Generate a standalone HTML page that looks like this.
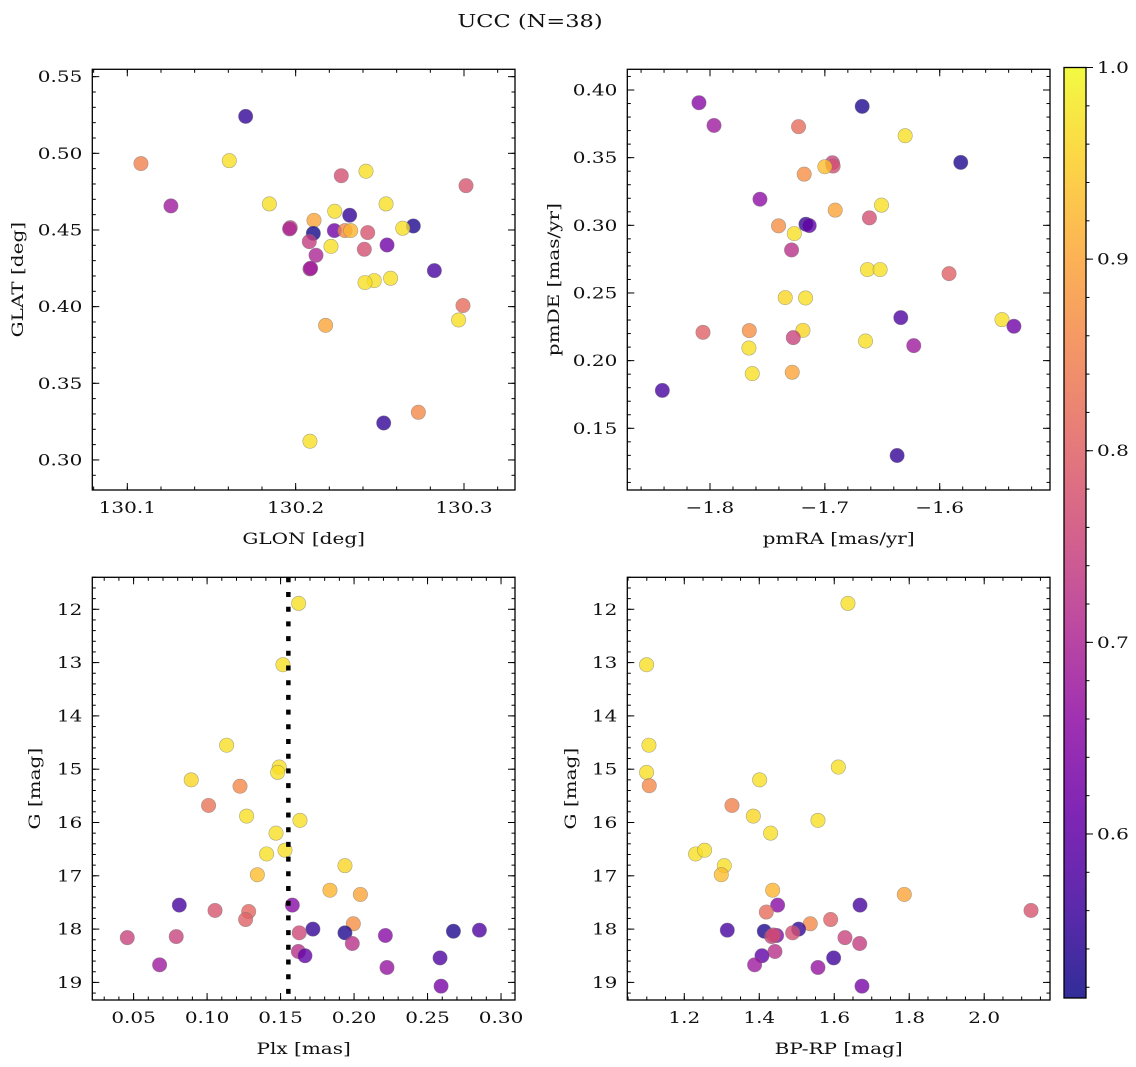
<!DOCTYPE html>
<html><head><meta charset="utf-8">
<style>
html,body{margin:0;padding:0;background:#fff;}
svg{display:block;font-family:"DejaVu Serif","Liberation Serif",serif;}
</style></head>
<body>
<svg id="fig" width="1136" height="1067" viewBox="0 0 1136 1067" xmlns="http://www.w3.org/2000/svg">
<text x="530" y="27" text-anchor="middle" font-size="18" fill="#111">UCC (N=38)</text>
</svg>
<script>
// ---- data ----
const probs1 = [0.55,0.85,0.97,0.77,0.97,0.78,0.68,0.97,0.97,0.97,0.55,0.9,0.75,0.53,0.97,0.52,0.62,0.86,0.92,0.78,0.74,0.97,0.62,0.77,0.7,0.72,0.57,0.97,0.97,0.97,0.82,0.97,0.9,0.86,0.55,0.97,0.7,0.68];
const glon = [130.1703,130.1081,130.1606,130.2271,130.2418,130.3012,130.1259,130.1844,130.2537,130.2232,130.2321,130.2109,130.1968,130.2699,130.2636,130.2105,130.2230,130.2293,130.2327,130.2428,130.2081,130.2210,130.2543,130.2408,130.2121,130.2085,130.2824,130.2467,130.2412,130.2564,130.2994,130.2968,130.2178,130.2729,130.2523,130.2085,130.1964,130.2089];
const glat = [0.5241,0.4933,0.4952,0.4854,0.4883,0.4789,0.4657,0.4670,0.4670,0.4622,0.4596,0.4563,0.4515,0.4526,0.4511,0.4478,0.4496,0.4496,0.4496,0.4483,0.4424,0.4393,0.4402,0.4374,0.4335,0.4246,0.4235,0.4170,0.4157,0.4185,0.4007,0.3913,0.3878,0.3311,0.3241,0.3122,0.4507,0.4250];

const probs2 = [0.65,0.68,0.53,0.82,0.97,0.53,0.75,0.77,0.93,0.87,0.66,0.9,0.97,0.77,0.87,0.55,0.6,0.97,0.72,0.97,0.97,0.8,0.96,0.97,0.58,0.97,0.62,0.8,0.87,0.96,0.75,0.97,0.68,0.97,0.97,0.9,0.57,0.55];
const pmra = [-1.8096,-1.7965,-1.6675,-1.7229,-1.6301,-1.5817,-1.6934,-1.6928,-1.7000,-1.7180,-1.7565,-1.6910,-1.6507,-1.6612,-1.7403,-1.7165,-1.7136,-1.7266,-1.7290,-1.6629,-1.6519,-1.5919,-1.7345,-1.7168,-1.6339,-1.5458,-1.5354,-1.8061,-1.7658,-1.7191,-1.7275,-1.6646,-1.6226,-1.7661,-1.7632,-1.7284,-1.8415,-1.6371];
const pmde = [0.3906,0.3738,0.3879,0.3729,0.3662,0.3465,0.3462,0.3438,0.3433,0.3378,0.3193,0.3112,0.3149,0.3055,0.2996,0.3008,0.2998,0.2939,0.2818,0.2673,0.2673,0.2643,0.2466,0.2463,0.2318,0.2303,0.2254,0.2209,0.2222,0.2224,0.2170,0.2145,0.2111,0.2093,0.1904,0.1914,0.1780,0.1299];

const probs3 = [0.97,0.97,0.97,0.97,0.97,0.96,0.86,0.83,0.97,0.97,0.97,0.97,0.97,0.96,0.93,0.92,0.9,0.57,0.65,0.78,0.81,0.8,0.87,0.55,0.53,0.53,0.58,0.76,0.75,0.75,0.65,0.72,0.72,0.6,0.58,0.68,0.67,0.63];
const plx = [0.1623,0.1516,0.1133,0.1491,0.1480,0.0892,0.1224,0.1010,0.1269,0.1632,0.1469,0.1405,0.1530,0.1938,0.1342,0.1836,0.2043,0.0811,0.1580,0.1054,0.1283,0.1262,0.1995,0.1720,0.1938,0.2676,0.2853,0.1627,0.0457,0.0790,0.2213,0.1988,0.1621,0.1666,0.2585,0.0677,0.2224,0.2592];
const gmag3 = [11.89,13.04,14.55,14.96,15.06,15.20,15.32,15.68,15.88,15.96,16.20,16.59,16.52,16.81,16.98,17.27,17.35,17.55,17.55,17.65,17.67,17.82,17.90,18.00,18.07,18.04,18.02,18.07,18.16,18.14,18.12,18.27,18.42,18.50,18.54,18.67,18.72,19.07];
const plxMedian = [0.1553];

const probs4 = [0.97,0.97,0.97,0.97,0.86,0.97,0.97,0.85,0.96,0.97,0.97,0.97,0.97,0.97,0.93,0.92,0.9,0.65,0.57,0.82,0.78,0.8,0.86,0.57,0.53,0.55,0.77,0.65,0.75,0.75,0.74,0.72,0.6,0.56,0.68,0.67,0.63,0.76];
const bprp = [1.6366,1.0995,1.1057,1.0995,1.1066,1.6109,1.4010,1.3272,1.3841,1.5566,1.4303,1.2302,1.2542,1.3067,1.2987,1.4357,1.7869,1.4490,1.6687,1.4188,2.1249,1.5904,1.5361,1.3147,1.4134,1.5050,1.4890,1.4463,1.4330,1.6286,1.6678,1.4419,1.4072,1.5984,1.3876,1.5566,1.6740,1.4374];
const gmag4 = [11.89,13.04,14.55,15.06,15.31,14.96,15.20,15.68,15.88,15.96,16.20,16.59,16.52,16.81,16.98,17.27,17.35,17.55,17.55,17.68,17.65,17.82,17.90,18.02,18.04,18.00,18.07,18.12,18.14,18.16,18.27,18.42,18.50,18.54,18.67,18.72,19.07,18.11];

const cbarTicks = [0.6,0.7,0.8,0.9,1.0];
const cbarRange = [0.5144,1.0];

// ---- helpers ----
const NS = "http://www.w3.org/2000/svg";
const svg = document.getElementById('fig');
function mk(tag, attrs, parent){
  const e = document.createElementNS(NS, tag);
  for (const k in attrs) e.setAttribute(k, attrs[k]);
  (parent||svg).appendChild(e);
  return e;
}
const plasmaStops = [[0,'#0d0887'],[0.1,'#41049d'],[0.2,'#6a00a8'],[0.3,'#8f0da4'],[0.4,'#b12a90'],[0.5,'#cc4778'],[0.6,'#e16462'],[0.7,'#f2844b'],[0.8,'#fca636'],[0.9,'#fcce25'],[1.0,'#f0f921']];
function hex(h){return [parseInt(h.substr(1,2),16),parseInt(h.substr(3,2),16),parseInt(h.substr(5,2),16)];}
function plasma(t){
  t=Math.max(0,Math.min(1,t));
  for(let i=0;i<plasmaStops.length-1;i++){
    const a=plasmaStops[i],b=plasmaStops[i+1];
    if(t<=b[0]){const f=(t-a[0])/(b[0]-a[0]);const ca=hex(a[1]),cb=hex(b[1]);
      return 'rgb('+ca.map((v,j)=>Math.round(v+(cb[j]-v)*f)).join(',')+')';}
  }
  return plasmaStops[plasmaStops.length-1][1];
}
function cnorm(v){return (v-cbarRange[0])/(cbarRange[1]-cbarRange[0]);}
function fmtMinus(s){return s.replace('-','\u2212');}

function panel(cfg){
  const g = mk('g',{});
  
  
  const L=cfg.box[0],T=cfg.box[1],R=cfg.box[2],B=cfg.box[3];
  const sx = v => L + (v-cfg.xd[0])/(cfg.xd[1]-cfg.xd[0])*(R-L);
  const sy = cfg.invert ? (v => T + (v-cfg.yd[0])/(cfg.yd[1]-cfg.yd[0])*(B-T)) : (v => B - (v-cfg.yd[0])/(cfg.yd[1]-cfg.yd[0])*(B-T));
  const clip = mk('clipPath',{id:cfg.name+'-clip'},g);
  mk('rect',{x:L,y:T,width:R-L,height:B-T},clip);
  const pts = mk('g',{'clip-path':'url(#'+cfg.name+'-clip)'},g);
  
  
  for(let i=0;i<cfg.x.length;i++){
    const c = mk('circle',{cx:sx(cfg.x[i]),cy:sy(cfg.y[i]),r:7.2,fill:plasma(cnorm(cfg.c[i])),'fill-opacity':0.8,stroke:'#777','stroke-opacity':0.6,'stroke-width':0.6},pts);
    
    
  }
  if(cfg.vline){
    const vl = mk('line',{x1:sx(cfg.vline[0]),x2:sx(cfg.vline[0]),y1:T,y2:B,stroke:'#000','stroke-width':4.5,'stroke-dasharray':'5 9.7'},pts);
    
    
  }
  const tk = mk('g',{stroke:'#000','stroke-width':1},g);
  const eps=1e-9;
  for(let v=Math.ceil((cfg.xd[0])/cfg.xminor-eps)*cfg.xminor; v<=cfg.xd[1]+eps; v+=cfg.xminor){
    const x=sx(v);
    mk('line',{x1:x,x2:x,y1:B,y2:B-3.5},tk); mk('line',{x1:x,x2:x,y1:T,y2:T+3.5},tk);
  }
  for(let v=Math.ceil((Math.min(cfg.yd[0],cfg.yd[1]))/cfg.yminor-eps)*cfg.yminor; v<=Math.max(cfg.yd[0],cfg.yd[1])+eps; v+=cfg.yminor){
    const y=sy(v);
    mk('line',{x1:L,x2:L+3.5,y1:y,y2:y},tk); mk('line',{x1:R,x2:R-3.5,y1:y,y2:y},tk);
  }
  cfg.xt.forEach(v=>{
    const x=sx(v);
    mk('line',{x1:x,x2:x,y1:B,y2:B-7},tk); mk('line',{x1:x,x2:x,y1:T,y2:T+7},tk);
    const t=mk('text',{x:x,y:B+23,'text-anchor':'middle','font-size':16,fill:'#111'},g);
    t.textContent=fmtMinus(v.toFixed(cfg.xdec));
    
    
  });
  cfg.yt.forEach(v=>{
    const y=sy(v);
    mk('line',{x1:L,x2:L+7,y1:y,y2:y},tk); mk('line',{x1:R,x2:R-7,y1:y,y2:y},tk);
    const t=mk('text',{x:L-10,y:y+5.5,'text-anchor':'end','font-size':16,fill:'#111'},g);
    t.textContent=fmtMinus(v.toFixed(cfg.ydec));
    
    
  });
  const fr = mk('rect',{x:L,y:T,width:R-L,height:B-T,fill:'none',stroke:'#000','stroke-width':1.3},g);
  
  
  const xl = mk('text',{x:(L+R)/2,y:B+54,'text-anchor':'middle','font-size':16,fill:'#111'},g);
  xl.textContent=cfg.xlabel;
  
  
  const yl = mk('text',{x:0,y:0,'text-anchor':'middle','font-size':16,fill:'#111',transform:'translate('+cfg.ylx+','+((T+B)/2)+') rotate(-90)'},g);
  yl.textContent=cfg.ylabel;
  
  
}

panel({name:'glon-glat-panel',box:[92.3,69.3,515,490],xd:[130.0792,130.3303],yd:[0.2804,0.5548],x:glon,y:glat,c:probs1,
  xt:[130.1,130.2,130.3],xdec:1,xminor:0.02,yt:[0.30,0.35,0.40,0.45,0.50,0.55],ydec:2,yminor:0.01,xlabel:'GLON [deg]',ylabel:'GLAT [deg]',ylx:23});
panel({name:'pm-panel',box:[627.3,69.3,1050,490],xd:[-1.872,-1.504],yd:[0.1044,0.4153],x:pmra,y:pmde,c:probs2,
  xt:[-1.8,-1.7,-1.6],xdec:1,xminor:0.02,yt:[0.15,0.20,0.25,0.30,0.35,0.40],ydec:2,yminor:0.01,xlabel:'pmRA [mas/yr]',ylabel:'pmDE [mas/yr]',ylx:559});
panel({name:'plx-g-panel',box:[92.3,577.3,515,1000],xd:[0.0219,0.3095],yd:[11.40,19.33],invert:true,x:plx,y:gmag3,c:probs3,vline:plxMedian,
  xt:[0.05,0.10,0.15,0.20,0.25,0.30],xdec:2,xminor:0.01,yt:[12,13,14,15,16,17,18,19],ydec:0,yminor:0.2,xlabel:'Plx [mas]',ylabel:'G [mag]',ylx:40});
panel({name:'cmd-panel',box:[627.3,577.3,1050,1000],xd:[1.048,2.1755],yd:[11.40,19.33],invert:true,x:bprp,y:gmag4,c:probs4,
  xt:[1.2,1.4,1.6,1.8,2.0],xdec:1,xminor:0.05,yt:[12,13,14,15,16,17,18,19],ydec:0,yminor:0.2,xlabel:'BP-RP [mag]',ylabel:'G [mag]',ylx:576});

// colorbar
(function(){
  const cx0=1064,cx1=1086,cy0=67.5,cy1=998;
  const g = mk('g',{});
  
  
  const defs = mk('defs',{},g);
  const lg = mk('linearGradient',{id:'cbgrad',x1:0,y1:1,x2:0,y2:0},defs);
  for(let i=0;i<=20;i++){
    const f=i/20; const v=cbarRange[0]+f*(cbarRange[1]-cbarRange[0]);
    mk('stop',{offset:f,'stop-color':plasma(cnorm(v)),'stop-opacity':0.85},lg);
  }
  mk('rect',{x:cx0,y:cy0,width:cx1-cx0,height:cy1-cy0,fill:'url(#cbgrad)'},g);
  const sy = v => cy1 - (v-cbarRange[0])/(cbarRange[1]-cbarRange[0])*(cy1-cy0);
  for(let v=0.52; v<=1.0001; v+=0.02){
    mk('line',{x1:cx1,x2:cx1+3.5,y1:sy(v),y2:sy(v),stroke:'#000','stroke-width':1},g);
  }
  cbarTicks.forEach(v=>{
    const y=sy(v);
    mk('line',{x1:cx1,x2:cx1+7,y1:y,y2:y,stroke:'#000','stroke-width':1},g);
    const t=mk('text',{x:cx1+11,y:y+5.5,'font-size':16,fill:'#111'},g);
    t.textContent=v.toFixed(1);
    
    
  });
  mk('rect',{x:cx0,y:cy0,width:cx1-cx0,height:cy1-cy0,fill:'none',stroke:'#000','stroke-width':1.3},g);
})();

// widen text to match reference glyph widths
document.querySelectorAll('#fig text').forEach(t=>{
  const w = t.getComputedTextLength();
  if (w > 0) {
    t.setAttribute('textLength', (w*1.25).toFixed(1));
    t.setAttribute('lengthAdjust', 'spacingAndGlyphs');
  }
});
</script>
</body></html>
